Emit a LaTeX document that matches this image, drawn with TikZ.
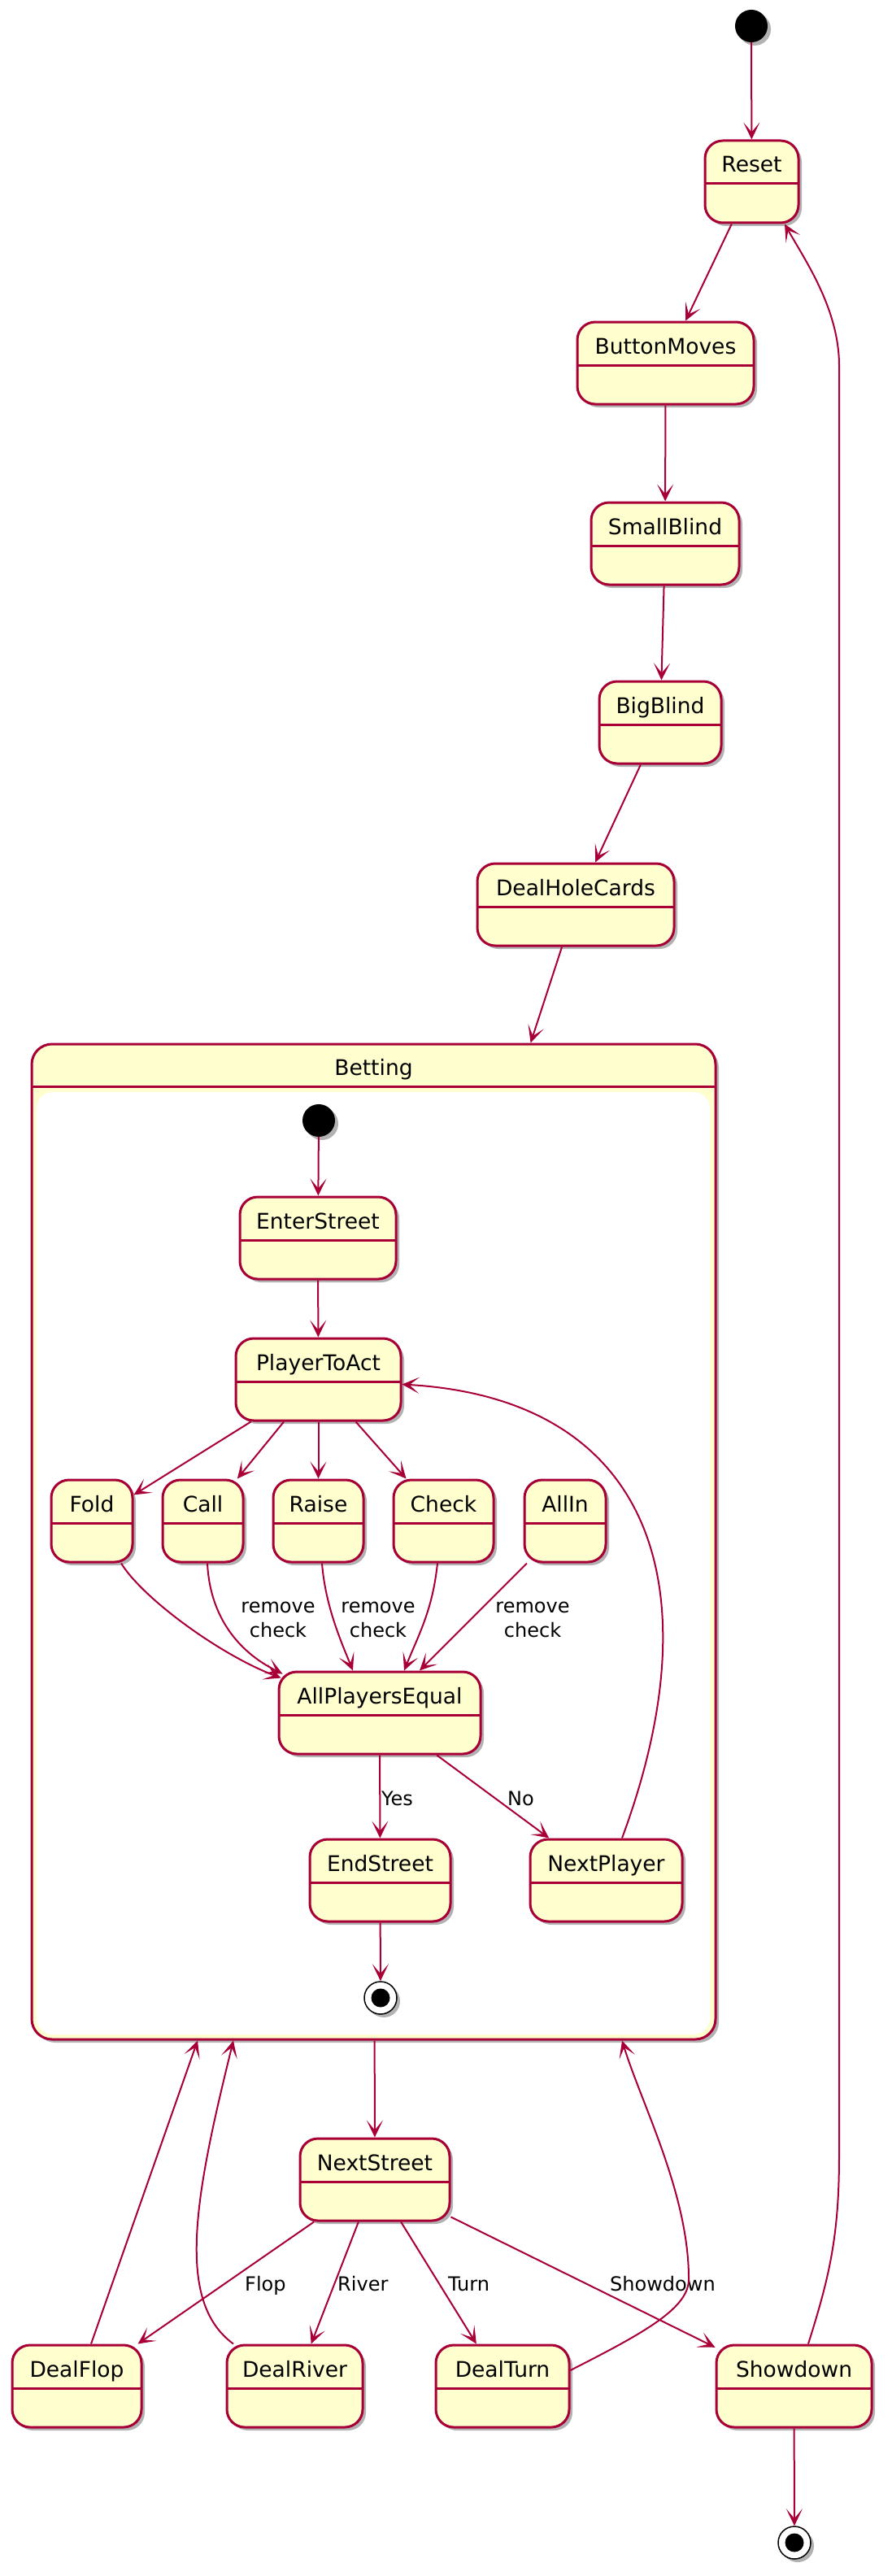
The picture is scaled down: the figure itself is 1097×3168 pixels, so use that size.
\documentclass[tikz,border=0pt]{standalone}
\usepackage{fontspec}
\setmainfont{DejaVu Sans}
\usetikzlibrary{arrows.meta,shadows,calc}
\definecolor{pline}{HTML}{A80036}
\definecolor{pfill}{HTML}{FEFECE}
\tikzset{
  pshadow/.style={drop shadow={shadow xshift=4pt,shadow yshift=-4pt,opacity=0.3,fill=black}},
  stbox/.style={draw=pline,fill=pfill,line width=3pt,rounded corners=22pt,inner sep=0pt,pshadow},
  sttitle/.style={anchor=base,inner sep=0pt,font=\fontsize{26.5}{32}\selectfont},
  seprule/.style={draw=pline,line width=3pt},
  conn/.style={draw=pline,line width=2pt,-{Stealth[length=21pt,width=20pt,inset=12pt]}},
  elabel/.style={inner sep=0pt,font=\fontsize{24}{30}\selectfont,align=center},
}
\newcommand\pstate[5]{%
  \node[stbox,minimum width={(#4-#2)*1pt},minimum height=101pt] (#1) at ({(#2+#4)/2},{#3+50.5}) {};
  \draw[seprule] ({#2},{#3+53}) -- ({#4},{#3+53});
  \node[sttitle] (#1-t) at ({(#2+#4)/2},{#3+39}) {#5};
}
\begin{document}
\begin{tikzpicture}[x=1pt,y=-1pt]
\useasboundingbox (0,0) rectangle (1097,3168);
% top chain
\node[circle,fill=black,minimum size=40pt,inner sep=0pt,pshadow] (init) at (924,32) {};
\pstate{reset}{867}{173}{982}{Reset}
\pstate{buttonmoves}{710}{396}{927}{ButtonMoves}
\pstate{smallblind}{727}{618}{909}{SmallBlind}
\pstate{bigblind}{737}{838}{887}{BigBlind}
\pstate{dealholecards}{587}{1062}{829}{DealHoleCards}
% composite
\node[stbox,rounded corners=25pt,minimum width=841pt,minimum height=1224pt] (betting) at (459.5,1896) {};
\draw[seprule] (39,1336) -- (880,1336);
\fill[white,rounded corners=20pt] (45,1343) rectangle (873,2502);
\node[sttitle] (betting-t) at (459.5,1322) {Betting};
% inner
\node[circle,fill=black,minimum size=40pt,inner sep=0pt,pshadow] (init2) at (392,1378) {};
\pstate{enterstreet}{295}{1472}{487}{EnterStreet}
\pstate{playertoact}{290}{1646}{493}{PlayerToAct}
\pstate{fold}{63}{1820}{163}{Fold}
\pstate{call}{200}{1820}{299}{Call}
\pstate{raise}{336}{1820}{447}{Raise}
\pstate{check}{484}{1820}{607}{Check}
\pstate{allin}{645}{1820}{745}{AllIn}
\pstate{ape}{343}{2056}{591}{AllPlayersEqual}
\pstate{endstreet}{381}{2262}{554}{EndStreet}
\pstate{nextplayer}{652}{2262}{839}{NextPlayer}
\node[circle,draw=black,line width=1.5pt,fill=white,minimum size=40pt,inner sep=0pt,pshadow] (fin2) at (468,2457) {};
\node[circle,fill=black,minimum size=23pt,inner sep=0pt] (fin2-dot) at (fin2) {};
% bottom
\pstate{nextstreet}{369}{2630}{553}{NextStreet}
\pstate{dealflop}{15}{2884}{174}{DealFlop}
\pstate{dealriver}{279}{2884}{446}{DealRiver}
\pstate{dealturn}{536}{2884}{700}{DealTurn}
\pstate{showdown}{881}{2884}{1072}{Showdown}
\node[circle,draw=black,line width=1.5pt,fill=white,minimum size=40pt,inner sep=0pt,pshadow] (fin) at (977,3127) {};
\node[circle,fill=black,minimum size=23pt,inner sep=0pt] (fin-dot) at (fin) {};
% connectors: top chain
\draw[conn] (init) -- (reset);
\draw[conn] (reset) -- (buttonmoves);
\draw[conn] (buttonmoves) -- (smallblind);
\draw[conn] (smallblind) -- (bigblind);
\draw[conn] (bigblind) -- (dealholecards);
\draw[conn] (dealholecards) -- (betting);
% inner
\draw[conn] (init2) -- (enterstreet);
\draw[conn] (enterstreet) -- (playertoact);
\draw[conn] (playertoact) -- (fold);
\draw[conn] (playertoact) -- (call);
\draw[conn] (playertoact) -- (raise);
\draw[conn] (playertoact) -- (check);
\draw[conn] ([xshift=36pt]fold.south) .. controls (175,1965) and (270,2035) .. ([xshift=4pt,yshift=-9pt]ape.north west);
\draw[conn] ([xshift=5.5pt]call.south) .. controls (258,1985) and (290,2030) .. ([xshift=6pt,yshift=-4pt]ape.north west);
\draw[conn] ([xshift=4.5pt]raise.south) .. controls (400,1975) and (420,2020) .. ([xshift=-33pt]ape.north);
\draw[conn] ([xshift=-7.5pt]check.south) .. controls (532,1980) and (515,2010) .. ([xshift=30pt]ape.north);
\draw[conn] ([xshift=-47pt]allin.south) -- ([xshift=49pt]ape.north);
\node[elabel] (lcall) at (342,1992) {remove\\check};
\node[elabel] (lraise) at (465,1992) {remove\\check};
\node[elabel] (lallin) at (655,1992) {remove\\check};
\draw[conn] (ape) -- (endstreet);
\draw[conn] (ape) -- (nextplayer);
\node[elabel,anchor=base west] (lyes) at (469,2220) {Yes};
\node[elabel,anchor=base west] (lno) at (624,2220) {No};
\draw[conn] (endstreet) -- (fin2);
\draw[conn] ([xshift=19.5pt]nextplayer.north) .. controls (880,1950) and (800,1720) .. ([yshift=-6pt]playertoact.east);
% bottom
\draw[conn] (betting) -- (nextstreet);
\draw[conn] (nextstreet) -- (dealflop);
\draw[conn] (nextstreet) -- (dealriver);
\draw[conn] (nextstreet) -- (dealturn);
\draw[conn] (nextstreet) -- (showdown);
\node[elabel,anchor=base west] (lflop) at (301,2817) {Flop};
\node[elabel,anchor=base west] (lriver) at (415,2817) {River};
\node[elabel,anchor=base west] (lturn) at (551,2817) {Turn};
\node[elabel,anchor=base west] (lshow) at (750,2817) {Showdown};
\draw[conn] (showdown) -- (fin);
\draw[conn] ([xshift=17.5pt]dealflop.north) -- ([xshift=-216.5pt]betting.south);
\draw[conn] ([xshift=-75.5pt]dealriver.north) .. controls (215,2830) and (240,2700) .. ([xshift=-172.5pt]betting.south);
\draw[conn] ([yshift=19.5pt]dealturn.east) .. controls (790,2870) and (845,2840) .. (847,2805) .. controls (848,2700) and (790,2590) .. ([xshift=305.5pt]betting.south);
\draw[conn] ([xshift=17.5pt]showdown.north) .. controls (1020,2800) and (1032,2750) .. (1032,2650) -- (1032,450) .. controls (1032,380) and (990,320) .. ([xshift=40.5pt]reset.south);
\end{tikzpicture}
\end{document}
